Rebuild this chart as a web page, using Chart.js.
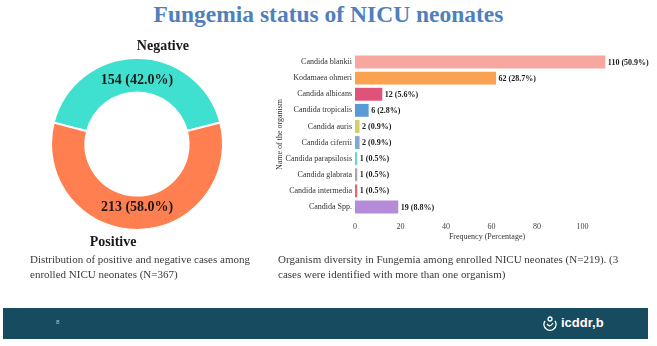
<!DOCTYPE html>
<html>
<head>
<meta charset="utf-8">
<script src="https://cdn.jsdelivr.net/npm/chart.js@4"></script>
<style>
  html, body { margin: 0; padding: 0; background: #fff; }
  body { width: 657px; height: 346px; position: relative; overflow: hidden; font-family: "Liberation Serif", "DejaVu Serif", serif; }
  #title { position: absolute; left: 0; top: 1px; width: 657px; text-align: center; font-weight: bold; font-size: 23.5px; color: #4f7fbc; }
  #pieBox { position: absolute; left: 2px; top: 19px; width: 270px; height: 250px; }
  #barBox { position: absolute; left: 270px; top: 45px; width: 387px; height: 200px; }
  .caption { position: absolute; top: 252px; font-size: 11px; line-height: 14.5px; color: #3a3a3a; }
  #capLeft { left: 30px; width: 230px; }
  #capRight { left: 278px; width: 360px; }
  #footer { position: absolute; left: 3px; top: 308px; width: 645px; height: 31px; background: #174b5f; }
  #pageNo { position: absolute; left: 53px; top: 11px; font-size: 6px; color: #b8c8d0; font-family: "Liberation Sans", sans-serif; }
  #logo { position: absolute; left: 539px; top: 7px; color: #fff; font-family: "Liberation Sans", sans-serif; font-weight: bold; font-size: 13px; line-height: 16px; display: flex; align-items: center; gap: 3px; }
</style>
</head>
<body>
<div id="title">Fungemia status of NICU neonates</div>
<div id="pieBox"><canvas id="pieChart"></canvas></div>
<div id="barBox"><canvas id="barChart"></canvas></div>
<div class="caption" id="capLeft">Distribution of positive and negative cases among enrolled NICU neonates (N=367)</div>
<div class="caption" id="capRight">Organism diversity in Fungemia among enrolled NICU neonates (N=219). (3 cases were identified with more than one organism)</div>
<div id="footer">
  <div id="pageNo">8</div>
  <div id="logo">
    <svg width="16" height="16" viewBox="0 0 16 16"><path d="M3 6 A6 6 0 1 0 13 6" fill="none" stroke="#fff" stroke-width="1.4"/><circle cx="8" cy="4" r="2" fill="none" stroke="#fff" stroke-width="1.3"/><path d="M5 9 Q8 13 11 8" fill="none" stroke="#fff" stroke-width="1.3"/></svg>
    <span>icddr,b</span>
  </div>
</div>
<script>
// donut data
const statusLabels = ["Negative", "Positive"];
const statusCounts = [154, 213];
const statusPct = [42.0, 58.0];
const statusColors = ["#40e0d0", "#ff7f50"];

// organism data
const organisms = ["Candida blankii", "Kodamaea ohmeri", "Candida albicans", "Candida tropicalis",
  "Candida auris", "Candida ciferrii", "Candida parapsilosis", "Candida glabrata",
  "Candida intermedia", "Candida Spp."];
const orgCounts = [110, 62, 12, 6, 2, 2, 1, 1, 1, 19];
const orgPct = [50.9, 28.7, 5.6, 2.8, 0.9, 0.9, 0.5, 0.5, 0.5, 8.8];
const orgColors = ["#f8a6a0", "#fba152", "#e1527a", "#5b9bd5", "#d6cf66", "#7fa7d4",
  "#6cd3da", "#a9a9a9", "#e06c6c", "#b58cd9"];
const xTicks = [0, 20, 40, 60, 80, 100];

const serif = "'Liberation Serif', 'DejaVu Serif', serif";

// draws count (pct) inside each slice and the category name outside
const donutLabels = {
  id: "donutLabels",
  afterDatasetsDraw(chart) {
    const ctx = chart.ctx;
    const arcs = chart.getDatasetMeta(0).data;
    const shift = [26, -24];
    ctx.save();
    ctx.textAlign = "center";
    ctx.textBaseline = "middle";
    ctx.fillStyle = "#1a1a1a";
    ctx.font = "bold 14px " + serif;
    arcs.forEach((arc, i) => {
      const p = arc.getProps(["x", "y", "startAngle", "endAngle", "innerRadius", "outerRadius"], true);
      const mid = (p.startAngle + p.endAngle) / 2;
      const r = (p.innerRadius + p.outerRadius) / 2 - 5;
      ctx.fillText(statusCounts[i] + " (" + statusPct[i].toFixed(1) + "%)", p.x + Math.cos(mid) * r, p.y + Math.sin(mid) * r);
      const ro = p.outerRadius + 12;
      ctx.fillText(statusLabels[i], p.x + Math.cos(mid) * ro + shift[i], p.y + Math.sin(mid) * ro);
    });
    ctx.restore();
  }
};

new Chart(document.getElementById("pieChart"), {
  type: "doughnut",
  data: {
    labels: statusLabels,
    datasets: [{
      data: statusCounts,
      backgroundColor: statusColors,
      borderColor: "#fff",
      borderWidth: 2
    }]
  },
  options: {
    responsive: true,
    maintainAspectRatio: false,
    animation: false,
    radius: 86,
    cutout: "60%",
    rotation: -75.6,
    plugins: { legend: { display: false }, tooltip: { enabled: false } }
  },
  plugins: [donutLabels]
});

// value labels at the end of each bar
const barLabels = {
  id: "barLabels",
  afterDatasetsDraw(chart) {
    const ctx = chart.ctx;
    ctx.save();
    ctx.font = "bold 8px " + serif;
    ctx.fillStyle = "#1a1a1a";
    ctx.textAlign = "left";
    ctx.textBaseline = "middle";
    chart.getDatasetMeta(0).data.forEach((bar, i) => {
      ctx.fillText(orgCounts[i] + " (" + orgPct[i].toFixed(1) + "%)", bar.x + 2.5, bar.y + 0.5);
    });
    ctx.restore();
  }
};

new Chart(document.getElementById("barChart"), {
  type: "bar",
  data: {
    labels: organisms,
    datasets: [{
      data: orgCounts,
      backgroundColor: orgColors,
      barPercentage: 0.8,
      categoryPercentage: 1
    }]
  },
  options: {
    indexAxis: "y",
    responsive: true,
    maintainAspectRatio: false,
    animation: false,
    layout: { padding: { top: 9, right: 38, bottom: 0, left: 0 } },
    plugins: { legend: { display: false }, tooltip: { enabled: false } },
    scales: {
      x: {
        min: 0,
        max: 116,
        afterBuildTicks: (scale) => { scale.ticks = xTicks.map(v => ({ value: v })); },
        afterFit: (scale) => { scale.height = 30; },
        grid: { display: false, drawTicks: false },
        border: { display: false },
        ticks: { padding: 7, color: "#444", font: { family: serif, size: 8 } },
        title: { display: true, text: "Frequency (Percentage)", color: "#333", padding: { top: 0, bottom: 3 }, font: { family: serif, size: 8 } }
      },
      y: {
        afterFit: (scale) => { scale.width = 85; },
        grid: { display: false, drawTicks: false },
        border: { display: false },
        ticks: { padding: 3, color: "#333", font: { family: serif, size: 8 } },
        title: { display: true, text: "Name of the organism", color: "#333", padding: { top: 5, bottom: 0 }, font: { family: serif, size: 8 } }
      }
    }
  },
  plugins: [barLabels]
});
</script>
</body>
</html>
